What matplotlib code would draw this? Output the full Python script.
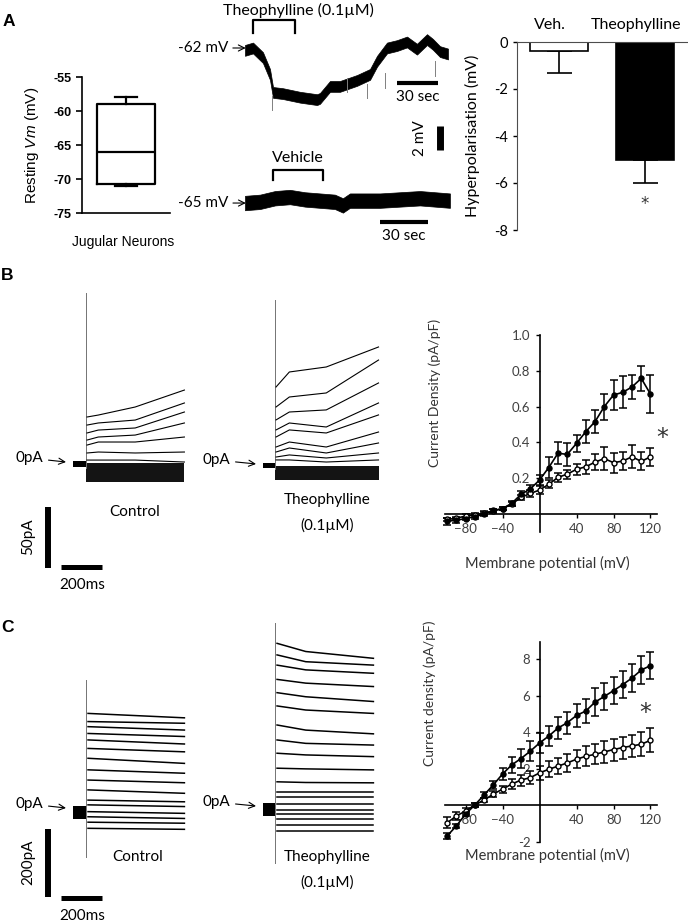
"""Theophylline: resting Vm, hyperpolarisation, current traces and I-V curves."""

import matplotlib.pyplot as plt

W, H = 688, 923
ARIAL = ["Liberation Sans", "DejaVu Sans"]
CALI = ["Lato", "DejaVu Sans"]

plt.rcParams["font.family"] = CALI
plt.rcParams["mathtext.fontset"] = "custom"
plt.rcParams["mathtext.rm"] = "Liberation Sans"
plt.rcParams["mathtext.it"] = "Liberation Sans:italic"

# ---------------- data ----------------
# A: resting membrane potential (box plot, mV)
vm_min, vm_q1, vm_med, vm_q3, vm_max = -71.0, -70.7, -66.0, -59.0, -58.0

# A: hyperpolarisation bar chart (mV)
hyp_labels = ["Veh.", "Theophylline"]
hyp_mean = [-0.4, -5.0]
hyp_sem = [0.9, 1.0]

# A: membrane potential traces (s, mV, centre of the noisy band)
theo_t = [0, 5.8, 13, 18.1, 20.3, 27.5, 39.9, 52.2, 54.3, 61.6, 68.8, 81.2,
          90.6, 95.7, 102.9, 110.1, 117.4, 124.6, 131.9, 136.2, 141.3, 147.1]
theo_v = [-62.2, -62.0, -62.8, -64.2, -65.7, -65.8, -66.1, -66.3, -66.2, -65.2,
          -65.2, -64.7, -64.2, -63.1, -62.0, -61.8, -61.5, -62.1, -61.3, -61.7,
          -62.3, -62.5]
theo_spike_t = [19.6, 73.9, 88.4, 101.4, 137.7]
theo_spike_v = [-67.2, -65.7, -66.2, -65.3, -64.3]
veh_t = [0, 9.4, 18.8, 28.1, 37.5, 46.9, 56.2, 61.2, 65.6, 75, 84.4, 96.9,
         109.4, 118.8, 128.1]
veh_v = [-65.0, -64.9, -64.6, -64.5, -64.7, -64.8, -64.9, -65.2, -64.8, -64.8,
         -64.8, -64.7, -64.6, -64.7, -64.8]

# B: outward current sweeps (pA) at 5, 60, 240 and 480 ms
b_t = [5, 60, 240, 480]
b_ctrl_start = [36.9, 30.3, 23.8, 18.0, 13.9, 7.4, 1.6]
b_ctrl_early = [38.5, 32.0, 26.2, 20.5, 16.4, 8.2, 1.6]
b_ctrl_mid = [45.1, 34.4, 27.9, 22.1, 16.4, 7.4, 1.6]
b_ctrl_end = [59.0, 48.4, 41.0, 32.0, 20.5, 8.2, 0.0]
b_theo_t = [5, 70, 250, 505]
b_theo_start = [63.1, 46.7, 36.1, 27.9, 22.1, 13.9, 9.8, 5.7, 3.3]
b_theo_early = [75.4, 54.9, 42.6, 33.6, 27.9, 18.0, 13.1, 7.4, 3.3]
b_theo_mid = [79.5, 58.2, 44.3, 30.3, 25.4, 13.9, 9.0, 4.9, 1.6]
b_theo_end = [95.9, 85.2, 66.4, 50.0, 40.2, 26.2, 17.2, 9.0, 3.3]

# C: current sweeps (pA)
c_ctrl_t = [10, 480]
c_ctrl_start = [290, 266, 251, 231, 212, 187, 158, 124, 94, 65, 35, 21, 1,
                -14, -30, -48]
c_ctrl_end = [277, 261, 241, 222, 200, 177, 143, 114, 86, 55, 30, 16, -4,
              -19, -33, -51]
c_theo_t = [10, 150, 480]
c_theo_start = [490, 456, 426, 384, 345, 306, 250, 206, 167, 123, 83, 52, 37,
                18, 0, -13, -27, -44, -62]
c_theo_mid = [466, 436, 412, 373, 333, 294, 235, 196, 162, 121, 81, 52, 37,
              18, 0, -13, -27, -44, -62]
c_theo_end = [446, 426, 402, 363, 319, 284, 224, 191, 157, 118, 80, 52, 37,
              18, 0, -13, -27, -44, -62]

# I-V curves
iv_mv = [-100, -90, -80, -70, -60, -50, -40, -30, -20, -10, 0, 10, 20, 30,
         40, 50, 60, 70, 80, 90, 100, 110, 120]
ivb_theo = [-0.04, -0.035, -0.025, -0.015, 0.0, 0.02, 0.03, 0.06, 0.11, 0.14,
            0.19, 0.26, 0.34, 0.333, 0.395, 0.46, 0.516, 0.60, 0.665, 0.68,
            0.71, 0.758, 0.67]
ivb_theo_err = [0.02, 0.015, 0.01, 0.01, 0.01, 0.01, 0.01, 0.015, 0.02, 0.02,
                0.028, 0.06, 0.062, 0.065, 0.047, 0.063, 0.063, 0.073, 0.086,
                0.09, 0.066, 0.069, 0.107]
ivb_ctrl = [-0.03, -0.024, -0.011, -0.005, 0.005, 0.018, 0.03, 0.056, 0.093,
            0.115, 0.134, 0.166, 0.205, 0.223, 0.25, 0.264, 0.29, 0.31, 0.287,
            0.296, 0.32, 0.294, 0.32]
ivb_ctrl_err = [0.01, 0.01, 0.01, 0.01, 0.01, 0.01, 0.01, 0.012, 0.015, 0.018,
                0.02, 0.022, 0.024, 0.025, 0.03, 0.04, 0.045, 0.065, 0.055,
                0.05, 0.065, 0.05, 0.05]
ivc_theo = [-1.7, -1.15, -0.5, 0.0, 0.55, 1.1, 1.7, 2.2, 2.55, 2.95, 3.4,
            3.78, 4.22, 4.51, 4.91, 5.15, 5.64, 5.95, 6.27, 6.6, 6.96, 7.4, 7.64]
ivc_theo_err = [0.15, 0.12, 0.1, 0.1, 0.15, 0.2, 0.35, 0.45, 0.5, 0.55, 0.55,
                0.55, 0.6, 0.6, 0.64, 0.65, 0.75, 0.75, 0.75, 0.75, 0.75, 0.75,
                0.75]
ivc_ctrl = [-0.98, -0.6, -0.33, 0.0, 0.27, 0.6, 0.87, 1.15, 1.37, 1.5, 1.76,
            1.96, 2.13, 2.31, 2.51, 2.67, 2.78, 2.91, 3.04, 3.15, 3.24, 3.33,
            3.55]
ivc_ctrl_err = [0.3, 0.2, 0.15, 0.1, 0.1, 0.15, 0.2, 0.25, 0.3, 0.35, 0.4,
                0.45, 0.45, 0.5, 0.5, 0.55, 0.55, 0.6, 0.6, 0.6, 0.62, 0.65,
                0.66]

fig = plt.figure(figsize=(W / 100, H / 100), dpi=100)


def pax(x0, y0, x1, y1):
    """Axes placed by pixel box (top-left origin)."""
    return fig.add_axes([x0 / W, 1 - y1 / H, (x1 - x0) / W, (y1 - y0) / H])


def ftext(x, y, s, **kw):
    kw.setdefault("ha", "center")
    kw.setdefault("va", "center")
    fig.text(x / W, 1 - y / H, s, **kw)


def star(x, y, size):
    # DejaVu's asterisk sits high in the line box, so nudge it down
    ftext(x, y + 0.25 * size * 1.39, "*", family="DejaVu Sans",
          fontsize=size, color="#333333")


# panel letters
for letter, (lx, ly) in zip("ABC", [(9, 22), (7, 276), (7, 628)]):
    ftext(lx, ly, letter, family=ARIAL, fontsize=12.5, weight="bold")

# ---- A: box plot ----
ax = pax(82, 77, 170, 213)
stats = [dict(whislo=vm_min, q1=vm_q1, med=vm_med, q3=vm_q3, whishi=vm_max,
              fliers=[])]
lp = dict(color="k", lw=1.6)
ax.bxp(stats, positions=[0.5], widths=0.65, capwidths=0.25, showfliers=False,
       boxprops=lp, medianprops=lp, whiskerprops=lp, capprops=lp)
ax.set_xlim(0, 1)
ax.set_ylim(-75, -55)
ax.set_xticks([])
ax.set_yticks([-75, -70, -65, -60, -55])
ax.set_yticklabels(["-75", "-70", "-65", "-60", "-55"], family=ARIAL,
                   weight="bold", fontsize=9)
ax.tick_params(axis="y", length=4, width=1.2)
for s in ["top", "right"]:
    ax.spines[s].set_visible(False)
for s in ["left", "bottom"]:
    ax.spines[s].set_linewidth(1.2)
ax.set_ylabel("Resting $\\mathit{Vm}$ (mV)", family=ARIAL, fontsize=11)
ax.yaxis.set_label_coords(-0.47, 0.5)
ftext(123, 242, "Jugular Neurons", family=ARIAL, fontsize=10)

# ---- A: theophylline trace ----
ax = pax(245, 5, 452, 112)
ax.set_xlim(0, 150)
ax.set_ylim(-67.33, -58.42)
ax.axis("off")
ax.fill_between(theo_t, [v - 0.45 for v in theo_v], [v + 0.45 for v in theo_v],
                color="k", lw=0.5)
for st, sv in zip(theo_spike_t, theo_spike_v):
    ax.plot([st, st], [sv, sv + 1.2], color="0.5", lw=0.7)
ax.plot([6, 6, 36, 36], [-60.75, -59.67, -59.67, -60.75], color="k", lw=1.6)
ax.text(39, -58.9, "Theophylline (0.1µM)", ha="center", va="center",
        fontsize=11.5)
ax.annotate("-62 mV", xy=(0.5, -62.0), xytext=(-17, 0),
            textcoords="offset pixels", ha="right", va="center", fontsize=11,
            arrowprops=dict(arrowstyle="->", lw=0.8, shrinkA=1, shrinkB=0),
            annotation_clip=False)
ax.plot([110, 140], [-64.92, -64.92], color="k", lw=3, solid_capstyle="butt")
ax.text(125, -66.1, "30 sec", ha="center", va="center", fontsize=11)
ax.plot([141.3, 141.3], [-68.5, -70.5], color="k", lw=5,
        solid_capstyle="butt", clip_on=False)
ax.text(126.8, -69.5, "2 mV", rotation=90, ha="center", va="center",
        fontsize=11)

# ---- A: vehicle trace ----
ax = pax(245, 150, 452, 240)
ax.set_xlim(0, 129.4)
ax.set_ylim(-68.08, -60.58)
ax.axis("off")
ax.fill_between(veh_t, [v - 0.6 for v in veh_v], [v + 0.6 for v in veh_v],
                color="k", lw=0.5)
ax.plot([17.5, 17.5, 48.75, 48.75], [-63.08, -62.25, -62.25, -63.08],
        color="k", lw=1.6)
ax.text(33.1, -61.25, "Vehicle", ha="center", va="center", fontsize=11.5)
ax.annotate("-65 mV", xy=(0.5, -65.0), xytext=(-17, 0),
            textcoords="offset pixels", ha="right", va="center", fontsize=11,
            arrowprops=dict(arrowstyle="->", lw=0.8, shrinkA=1, shrinkB=0),
            annotation_clip=False)
ax.plot([84.4, 114.4], [-66.58, -66.58], color="k", lw=3,
        solid_capstyle="butt")
ax.text(99.4, -67.75, "30 sec", ha="center", va="center", fontsize=11)

# ---- A: bar chart ----
ax = pax(517, 42, 688, 230)
ax.bar([0, 1], hyp_mean, width=0.67, color=["white", "black"],
       edgecolor="black", lw=1.2, zorder=2)
ax.errorbar([0, 1], hyp_mean, yerr=[hyp_sem, [0, 0]], fmt="none", ecolor="k",
            elinewidth=1.2, capsize=9, capthick=1.2, zorder=1)
ax.set_xlim(-0.488, 1.5)
ax.set_ylim(-8, 0)
ax.set_xticks([])
ax.set_yticks([0, -2, -4, -6, -8])
ax.set_yticklabels(["0", "-2", "-4", "-6", "-8"], fontsize=10.5)
ax.tick_params(axis="y", length=3, width=1)
for s in ["bottom", "right"]:
    ax.spines[s].set_visible(False)
ax.spines["top"].set_color("0.3")
ax.spines["left"].set_color("0.3")
for i, lab in enumerate(hyp_labels):
    ax.text(i - 0.11, 0.72, lab, ha="center", va="center", fontsize=11.5)
ax.set_ylabel("Hyperpolarisation (mV)", fontsize=11.5)
ax.yaxis.set_label_coords(-0.216, 0.5)
star(645, 200, 12)


def holding_and_spike(ax, t0, lo, hi, spike_lo, spike_hi):
    ax.fill_between([t0, 0], lo, hi, color="k", lw=0)
    ax.plot([0, 0], [spike_lo, spike_hi], color="0.45", lw=0.7)


def zero_arrow(ax, tip_t, tip_y, dx):
    ax.annotate("0pA", xy=(tip_t, tip_y), xytext=(dx, 4),
                textcoords="offset pixels", ha="right", va="center",
                fontsize=11,
                arrowprops=dict(arrowstyle="->", lw=0.8, shrinkA=2, shrinkB=0))


# ---- B: control traces ----
ax = pax(5, 285, 190, 595)
ax.set_xlim(-395, 507.3)
ax.set_ylim(-109, 145.1)
ax.axis("off")
holding_and_spike(ax, -63, -4.1, 0.8, -5, 138.5)
ax.fill_between([2, 480], -16, -1, color="0.08", lw=0)
for sweep in zip(b_ctrl_start, b_ctrl_early, b_ctrl_mid, b_ctrl_end):
    ax.plot(b_t, sweep, color="k", lw=0.8)
zero_arrow(ax, -97.6, 0, -23)
ax.plot([-185, -185], [-37, -87], color="k", lw=4.3, solid_capstyle="butt")
ax.plot([-122, 78], [-86, -86], color="k", lw=3.6, solid_capstyle="butt")
ax.text(-283, -61.5, "50pA", rotation=90, ha="center", va="center",
        fontsize=11)
ax.text(-19.5, -100.8, "200ms", ha="center", va="center", fontsize=11)
ax.text(239, -41, "Control", ha="center", va="center", fontsize=11)

# ---- B: theophylline traces ----
ax = pax(200, 285, 385, 595)
ax.set_xlim(-365.9, 536.6)
ax.set_ylim(-107.4, 146.7)
ax.axis("off")
holding_and_spike(ax, -58.5, -3.3, 0.8, -4, 134.4)
ax.fill_between([2, 505], -13.1, -1.6, color="0.08", lw=0)
for sweep in zip(b_theo_start, b_theo_early, b_theo_mid, b_theo_end):
    ax.plot(b_theo_t, sweep, color="k", lw=0.8)
zero_arrow(ax, -92.7, 0, -26)
ax.text(253.7, -29.5, "Theophylline", ha="center", va="center", fontsize=11)
ax.text(253.7, -50, "(0.1µM)", ha="center", va="center", fontsize=11)

# ---- C: control traces ----
ax = pax(5, 640, 190, 923)
ax.set_xlim(-395, 507.3)
ax.set_ylim(-326.5, 505.9)
ax.axis("off")
holding_and_spike(ax, -63, -20.6, 17.6, -132, 388)
for sweep in zip(c_ctrl_start, c_ctrl_end):
    ax.plot(c_ctrl_t, sweep, color="k", lw=1.1)
zero_arrow(ax, -97.6, 11.8, -23)
ax.plot([-185, -185], [-51, -249], color="k", lw=4.3, solid_capstyle="butt")
ax.plot([-122, 78], [-254, -254], color="k", lw=3.6, solid_capstyle="butt")
ax.text(-283, -147, "200pA", rotation=90, ha="center", va="center",
        fontsize=11)
ax.text(-19.5, -306, "200ms", ha="center", va="center", fontsize=11)
ax.text(253.7, -132, "Control", ha="center", va="center", fontsize=11)

# ---- C: theophylline traces ----
ax = pax(200, 610, 385, 923)
ax.set_xlim(-365.9, 536.6)
ax.set_ylim(-332, 588)
ax.axis("off")
holding_and_spike(ax, -58.5, -17.6, 20.6, -156, 550)
for sweep in zip(c_theo_start, c_theo_mid, c_theo_end):
    ax.plot(c_theo_t, sweep, color="k", lw=1.1)
zero_arrow(ax, -92.7, 11.8, -26)
ax.text(253.7, -138, "Theophylline", ha="center", va="center", fontsize=11)
ax.text(253.7, -212, "(0.1µM)", ha="center", va="center", fontsize=11)


def iv_axes(box, ylim, ybounds, yticks, ylabels):
    ax = pax(*box)
    ax.set_xlim(-107.6, 151.9)
    ax.set_ylim(*ylim)
    for s in ["top", "right"]:
        ax.spines[s].set_visible(False)
    ax.spines["left"].set_position(("data", 0))
    ax.spines["bottom"].set_position(("data", 0))
    ax.spines["left"].set_bounds(*ybounds)
    ax.spines["bottom"].set_bounds(-102, 127)
    for s in ["left", "bottom"]:
        ax.spines[s].set_linewidth(1.2)
    ax.set_xticks([-80, -40, 40, 80, 120])
    ax.set_yticks(yticks)
    ax.set_yticklabels(ylabels)
    ax.tick_params(length=3, width=1, labelsize=9.5, labelcolor="#404040")
    return ax


def iv_series(ax, y_theo, e_theo, y_ctrl, e_ctrl):
    kw = dict(fmt="-o", color="k", ms=3.6, lw=1.2, elinewidth=1.1,
              capsize=3, capthick=1.1, zorder=3)
    ax.errorbar(iv_mv, y_ctrl, yerr=e_ctrl, mfc="white", mec="k", **kw)
    ax.errorbar(iv_mv, y_theo, yerr=e_theo, mfc="k", mec="k", **kw)


# ---- B: I-V ----
ax = iv_axes((440, 320, 680, 540), (-0.145, 1.084), (-0.1, 1.0),
             [0.2, 0.4, 0.6, 0.8, 1.0], ["0.2", "0.4", "0.6", "0.8", "1.0"])
iv_series(ax, ivb_theo, ivb_theo_err, ivb_ctrl, ivb_ctrl_err)
star(662, 432, 17)
ftext(435, 393, "Current Density (pA/pF)", rotation=90, fontsize=10,
      color="#333333")
ftext(547, 563, "Membrane potential (mV)", fontsize=10.5, color="#333333")

# ---- C: I-V ----
ax = iv_axes((440, 620, 680, 870), (-3.56, 10.14), (-2, 8.93),
             [-2, 2, 4, 6, 8], ["-2", "2", "4", "6", "8"])
iv_series(ax, ivc_theo, ivc_theo_err, ivc_ctrl, ivc_ctrl_err)
star(645, 707, 17)
ftext(430, 693, "Current density (pA/pF)", rotation=90, fontsize=10,
      color="#333333")
ftext(547, 855, "Membrane potential (mV)", fontsize=10.5, color="#333333")

fig.savefig("out.png", dpi=100)
